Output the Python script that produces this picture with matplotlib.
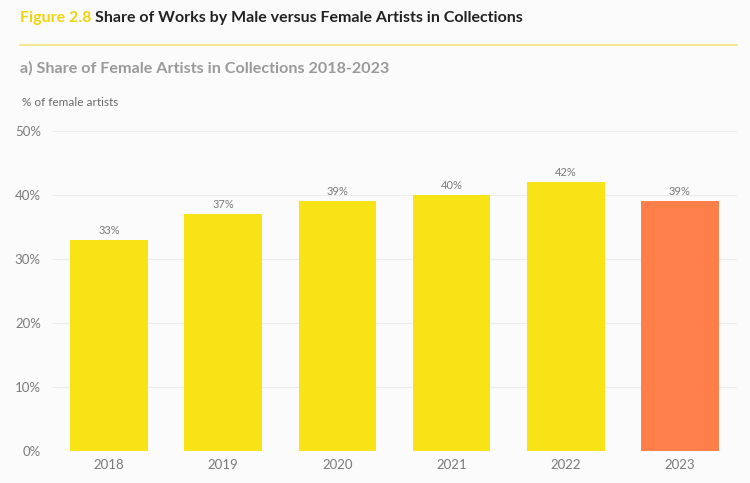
import matplotlib
matplotlib.use("Agg")
import matplotlib.pyplot as plt
from matplotlib.lines import Line2D

# data
years = ["2018", "2019", "2020", "2021", "2022", "2023"]
share_female = [33, 37, 39, 40, 42, 39]
y_ticks = [0, 10, 20, 30, 40, 50]

BG = "#fbfbfb"
YELLOW = "#f7e316"
ORANGE = "#ff7f4a"
GRID = "#ececec"
TICK_COLOR = "#7a7a7a"

plt.rcParams["font.family"] = ["Lato", "DejaVu Sans"]

fig = plt.figure(figsize=(7.5, 4.83), dpi=100)
fig.patch.set_facecolor(BG)
ax = fig.add_axes([0.0693, 0.0663, 0.9134, 0.6625])
ax.set_facecolor(BG)

colors = [YELLOW] * (len(years) - 1) + [ORANGE]
x = list(range(len(years)))
bars = ax.bar(x, share_female, width=0.68, color=colors, zorder=3)

for bar, val in zip(bars, share_female):
    ax.annotate(f"{val}%", xy=(bar.get_x() + bar.get_width() / 2, val),
                xytext=(0, 3), textcoords="offset points", ha="center",
                va="bottom", fontsize=8, color=TICK_COLOR)

ax.set_xlim(-0.5, len(years) - 0.5)
ax.set_ylim(0, 50)
ax.set_yticks(y_ticks)
ax.set_yticklabels([f"{t}%" for t in y_ticks])
ax.set_xticks(x)
ax.set_xticklabels(years)
ax.tick_params(axis="both", length=0, colors=TICK_COLOR, labelsize=9.5)
ax.tick_params(axis="y", pad=8)
ax.tick_params(axis="x", pad=6)
ax.grid(axis="y", color=GRID, linewidth=0.8, zorder=0)
for spine in ax.spines.values():
    spine.set_visible(False)

# header
t1 = fig.text(20 / 750, 1 - 18 / 483, "Figure 2.8", fontsize=11.5,
              fontweight="bold", color="#f2d40c", va="center")
fig.canvas.draw()
bb = t1.get_window_extent()
fig.text((bb.x1 + 4) / 750, 1 - 18 / 483,
         "Share of Works by Male versus Female Artists in Collections",
         fontsize=11.5, fontweight="bold", color="#222222", va="center")

fig.add_artist(Line2D([20 / 750, 737 / 750], [1 - 45 / 483, 1 - 45 / 483],
                      color="#f6e27a", linewidth=1.2))

fig.text(20 / 750, 1 - 68 / 483,
         "a) Share of Female Artists in Collections 2018-2023",
         fontsize=11.6, fontweight="bold", color="#9a9a9a", va="center")
fig.text(22 / 750, 1 - 102 / 483, "% of female artists", fontsize=8.5,
         color="#6a6a6a", va="center")

fig.savefig("out.png", dpi=100, facecolor=fig.get_facecolor())
